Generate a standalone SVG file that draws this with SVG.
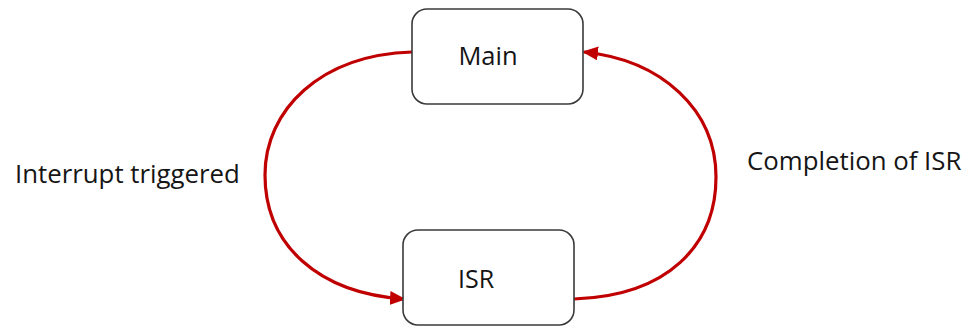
<svg xmlns="http://www.w3.org/2000/svg" width="965" height="327" viewBox="0 0 965 327">
  <style>
    .box { fill: #ffffff; stroke: #3a3a3a; stroke-width: 1.6; }
    .lbl { font-family: "Open Sans", "Liberation Sans", sans-serif; fill: #151515; }
    .flow { fill: none; stroke: #c00000; stroke-width: 3.2; }
  </style>
  <defs>
    <marker id="head" markerUnits="userSpaceOnUse" markerWidth="16" markerHeight="14" refX="14" refY="7" orient="auto">
      <path d="M0,0 L16,7 L0,14 Z" fill="#c00000"/>
    </marker>
  </defs>

  <g id="connectors">
    <path class="flow" d="M412,52 C320,55 265,110 265,175 C265,245 318,293 404,299" marker-end="url(#head)"/>
    <path class="flow" d="M574,299 C668,296 716,245 716,177 C716,110 662,60 584,52" marker-end="url(#head)"/>
  </g>

  <g id="main">
    <rect class="box" x="412" y="9" width="171" height="95" rx="15"/>
    <text class="lbl" x="488" y="65" font-size="25.5" text-anchor="middle">Main</text>
  </g>

  <g id="isr">
    <rect class="box" x="403" y="230" width="171" height="95" rx="15"/>
    <text class="lbl" x="476" y="288" font-size="25" text-anchor="middle">ISR</text>
  </g>

  <g id="label-interrupt">
    <text class="lbl" x="15" y="183" font-size="25.8">Interrupt triggered</text>
  </g>
  <g id="label-completion">
    <text class="lbl" x="747" y="170" font-size="25.8">Completion of ISR</text>
  </g>
</svg>
